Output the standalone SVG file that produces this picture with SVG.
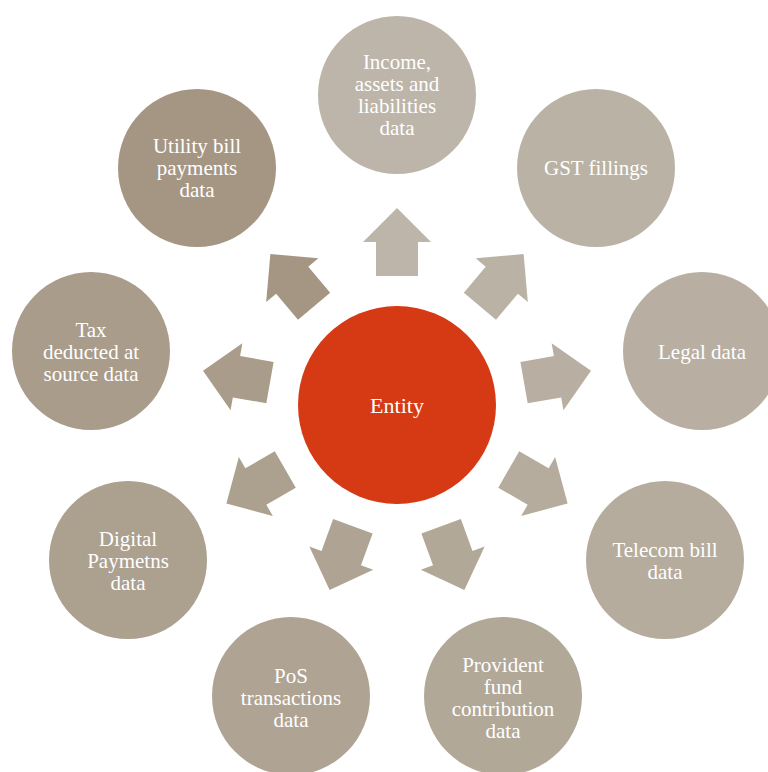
<svg xmlns="http://www.w3.org/2000/svg" width="768" height="772" viewBox="0 0 768 772">
<style>
text{font-family:"Liberation Serif","Times New Roman",serif;font-size:21px;fill:#ffffff;text-anchor:middle}
.ent{font-size:22px}
</style>
<defs>
<path id="arr" d="M129,-21 L163,-21 L163,-34 L197,0 L163,34 L163,21 L129,21 Z"/>
</defs>
<rect width="768" height="772" fill="#ffffff"/>
<g id="connectors">
<use href="#arr" transform="translate(397,405) rotate(-90)" fill="#BDB5A9"/>
<use href="#arr" transform="translate(397,405) rotate(-50)" fill="#BAB2A5"/>
<use href="#arr" transform="translate(397,405) rotate(-10)" fill="#B8AFA2"/>
<use href="#arr" transform="translate(397,405) rotate(30)" fill="#B5AC9D"/>
<use href="#arr" transform="translate(397,405) rotate(70)" fill="#B2A898"/>
<use href="#arr" transform="translate(397,405) rotate(110)" fill="#AFA494"/>
<use href="#arr" transform="translate(397,405) rotate(150)" fill="#ACA08F"/>
<use href="#arr" transform="translate(397,405) rotate(190)" fill="#A99C8A"/>
<use href="#arr" transform="translate(397,405) rotate(230)" fill="#A59684"/>
</g>
<g id="entity">
<circle cx="397" cy="405" r="99" fill="#D53A15"/>
<text class="ent" x="397" y="413">Entity</text>
</g>
<g id="income">
<circle cx="397" cy="95" r="79" fill="#BDB5A9"/>
<text x="397" y="69">Income,</text>
<text x="397" y="91">assets and</text>
<text x="397" y="113">liabilities</text>
<text x="397" y="135">data</text>
</g>
<g id="gst">
<circle cx="596" cy="168" r="79" fill="#BAB2A5"/>
<text x="596" y="175">GST fillings</text>
</g>
<g id="legal">
<circle cx="702" cy="351" r="79" fill="#B8AFA2"/>
<text x="702" y="359">Legal data</text>
</g>
<g id="telecom">
<circle cx="665" cy="560" r="79" fill="#B5AC9D"/>
<text x="665" y="557">Telecom bill</text>
<text x="665" y="579">data</text>
</g>
<g id="provident">
<circle cx="503" cy="696" r="79" fill="#B2A898"/>
<text x="503" y="672">Provident</text>
<text x="503" y="694">fund</text>
<text x="503" y="716">contribution</text>
<text x="503" y="738">data</text>
</g>
<g id="pos">
<circle cx="291" cy="696" r="79" fill="#AFA494"/>
<text x="291" y="683">PoS</text>
<text x="291" y="705">transactions</text>
<text x="291" y="727">data</text>
</g>
<g id="digital">
<circle cx="128" cy="560" r="79" fill="#ACA08F"/>
<text x="128" y="546">Digital</text>
<text x="128" y="568">Paymetns</text>
<text x="128" y="590">data</text>
</g>
<g id="tax">
<circle cx="91" cy="351" r="79" fill="#A99C8A"/>
<text x="91" y="337">Tax</text>
<text x="91" y="359">deducted at</text>
<text x="91" y="381">source data</text>
</g>
<g id="utility">
<circle cx="197" cy="168" r="79" fill="#A59684"/>
<text x="197" y="153">Utility bill</text>
<text x="197" y="175">payments</text>
<text x="197" y="197">data</text>
</g>
</svg>
